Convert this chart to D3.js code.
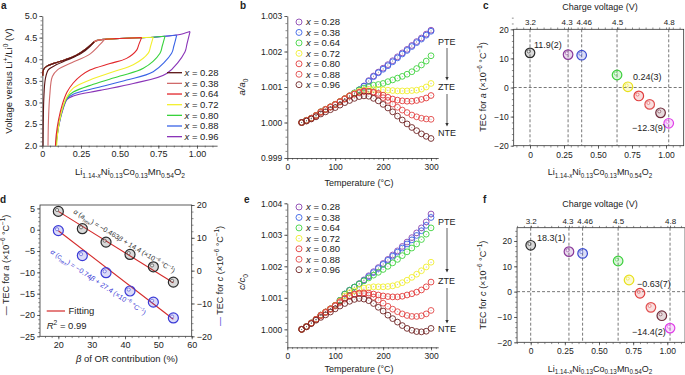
<!DOCTYPE html>
<html><head><meta charset="utf-8">
<script src="https://cdn.jsdelivr.net/npm/d3@7"></script>
<style>body{margin:0;background:#fff}svg{font-family:"Liberation Sans",Arial,sans-serif}</style>
</head><body><svg id="c" width="685" height="375"></svg>
<script>
// ---------------- DATA ----------------
const compLabels = ['0.28','0.38','0.64','0.72','0.80','0.88','0.96'];
const colorsA = ['#5a1414','#d06a6a','#e2262a','#f3ef2e','#38d23c','#3a64e6','#8a34b8'];
const colorsB = ['#8a44b0','#3a62e6','#3fd23f','#f0ee30','#e23a3a','#e24848','#6e2222'];

// panel a: shared charge curve + per-sample discharge
const chargeX = [0.003,0.008,0.03,0.08,0.15,0.22,0.28,0.335,0.35,0.403,0.50,0.642,0.717,0.793,0.869,0.91,0.955];
const chargeV = [3.62,3.76,3.84,3.91,3.99,4.09,4.23,4.40,4.43,4.46,4.48,4.50,4.51,4.53,4.56,4.59,4.64];
const chargeEnd = [0.335,0.403,0.642,0.717,0.793,0.869,0.955];
const d028X = [0.335,0.31,0.25,0.16,0.09,0.04,0.02,0.01,0.005];
const d028V = [4.40,4.30,4.13,3.98,3.87,3.76,3.55,3.10,2.00];
const d038X = [0.403,0.37,0.30,0.19,0.10,0.065,0.048,0.04,0.037];
const d038V = [4.46,4.33,4.10,3.92,3.76,3.60,3.15,2.60,2.00];
const d064X = [0.642,0.625,0.61,0.545,0.438,0.308,0.25,0.20,0.16,0.13,0.105,0.09,0.085];
const d064V = [4.50,4.35,4.21,4.02,3.90,3.75,3.62,3.45,3.24,2.96,2.60,2.25,2.00];
const d072X = [0.717,0.70,0.685,0.588,0.459,0.308,0.20,0.16,0.135,0.113,0.098,0.093];
const d072V = [4.51,4.30,4.14,3.87,3.71,3.52,3.33,3.14,2.92,2.60,2.25,2.00];
const d080X = [0.793,0.775,0.761,0.653,0.502,0.33,0.20,0.16,0.135,0.11,0.095,0.09];
const d080V = [4.53,4.30,4.14,3.79,3.61,3.42,3.24,3.11,2.90,2.55,2.20,2.00];
const d088X = [0.869,0.85,0.836,0.717,0.545,0.352,0.20,0.16,0.135,0.11,0.093,0.088];
const d088V = [4.56,4.30,4.14,3.71,3.52,3.34,3.19,3.09,2.88,2.52,2.15,2.00];
const d096X = [0.955,0.935,0.922,0.804,0.588,0.373,0.20,0.16,0.135,0.108,0.092,0.087];
const d096V = [4.64,4.35,4.17,3.67,3.44,3.28,3.15,3.07,2.86,2.50,2.15,2.00];

// panels b, e: temperature series
const temps = [30,40,50,60,70,80,90,100,110,120,130,140,150,160,170,180,190,200,210,220,230,240,250,260,270,280,290,300];
const a028 = [1.00000,1.00006,1.00012,1.00020,1.00030,1.00037,1.00044,1.00051,1.00059,1.00067,1.00075,1.00083,1.00092,1.00103,1.00118,1.00131,1.00142,1.00153,1.00163,1.00174,1.00185,1.00196,1.00206,1.00217,1.00228,1.00238,1.00249,1.00260];
const a038 = [1.00000,1.00006,1.00012,1.00020,1.00030,1.00037,1.00044,1.00051,1.00059,1.00067,1.00075,1.00083,1.00092,1.00102,1.00116,1.00129,1.00140,1.00150,1.00160,1.00171,1.00182,1.00193,1.00203,1.00214,1.00225,1.00235,1.00246,1.00257];
const a064 = [1.00000,1.00006,1.00012,1.00020,1.00030,1.00037,1.00044,1.00051,1.00059,1.00067,1.00075,1.00083,1.00092,1.00097,1.00101,1.00105,1.00107,1.00110,1.00115,1.00120,1.00125,1.00130,1.00136,1.00143,1.00152,1.00162,1.00173,1.00188];
const a072 = [1.00000,1.00006,1.00012,1.00020,1.00030,1.00037,1.00044,1.00051,1.00059,1.00067,1.00075,1.00082,1.00088,1.00091,1.00093,1.00093,1.00093,1.00092,1.00091,1.00090,1.00089,1.00089,1.00089,1.00090,1.00091,1.00094,1.00100,1.00110];
const a080 = [1.00000,1.00006,1.00012,1.00020,1.00030,1.00037,1.00044,1.00051,1.00059,1.00067,1.00075,1.00080,1.00084,1.00087,1.00088,1.00086,1.00082,1.00077,1.00071,1.00066,1.00063,1.00061,1.00060,1.00060,1.00062,1.00065,1.00069,1.00076];
const a088 = [1.00000,1.00005,1.00011,1.00019,1.00028,1.00036,1.00043,1.00050,1.00058,1.00066,1.00074,1.00080,1.00085,1.00089,1.00088,1.00084,1.00078,1.00070,1.00062,1.00052,1.00043,1.00035,1.00028,1.00021,1.00016,1.00012,1.00010,1.00009];
const a096 = [1.00000,1.00004,1.00010,1.00016,1.00024,1.00030,1.00036,1.00042,1.00049,1.00056,1.00062,1.00068,1.00073,1.00075,1.00074,1.00068,1.00061,1.00051,1.00041,1.00030,1.00018,1.00007,0.99996,0.99986,0.99977,0.99968,0.99961,0.99955];

const c028 = [1.00000,1.00009,1.00020,1.00032,1.00045,1.00055,1.00065,1.00076,1.00092,1.00112,1.00124,1.00134,1.00145,1.00157,1.00170,1.00183,1.00196,1.00209,1.00222,1.00236,1.00249,1.00263,1.00277,1.00291,1.00306,1.00322,1.00341,1.00366];
const c038 = [1.00000,1.00009,1.00020,1.00032,1.00045,1.00055,1.00065,1.00076,1.00092,1.00112,1.00124,1.00134,1.00144,1.00155,1.00167,1.00180,1.00193,1.00206,1.00219,1.00232,1.00245,1.00258,1.00271,1.00284,1.00298,1.00313,1.00330,1.00355];
const c064 = [1.00000,1.00009,1.00020,1.00032,1.00045,1.00055,1.00065,1.00076,1.00092,1.00112,1.00124,1.00134,1.00144,1.00154,1.00163,1.00172,1.00181,1.00190,1.00200,1.00211,1.00222,1.00234,1.00246,1.00258,1.00271,1.00285,1.00302,1.00322];
const c072 = [1.00000,1.00009,1.00020,1.00032,1.00045,1.00055,1.00065,1.00076,1.00090,1.00106,1.00116,1.00122,1.00127,1.00131,1.00133,1.00135,1.00135,1.00135,1.00136,1.00138,1.00142,1.00148,1.00156,1.00165,1.00175,1.00186,1.00198,1.00213];
const c080 = [1.00000,1.00009,1.00020,1.00032,1.00045,1.00055,1.00065,1.00076,1.00088,1.00099,1.00107,1.00112,1.00115,1.00116,1.00115,1.00112,1.00109,1.00106,1.00104,1.00103,1.00103,1.00105,1.00109,1.00113,1.00118,1.00125,1.00135,1.00150];
const c088 = [1.00000,1.00008,1.00019,1.00031,1.00043,1.00053,1.00063,1.00074,1.00085,1.00096,1.00104,1.00110,1.00113,1.00113,1.00109,1.00102,1.00093,1.00083,1.00073,1.00064,1.00056,1.00049,1.00044,1.00041,1.00041,1.00043,1.00049,1.00060];
const c096 = [1.00000,1.00008,1.00018,1.00029,1.00038,1.00046,1.00055,1.00065,1.00074,1.00082,1.00089,1.00095,1.00098,1.00096,1.00091,1.00082,1.00070,1.00058,1.00045,1.00034,1.00023,1.00012,1.00003,0.99997,0.99993,0.99992,0.99994,1.00003];

// panels c, f: TEC vs composition
const compX = [0, 0.28, 0.38, 0.64, 0.72, 0.80, 0.88, 0.96, 1.02];
const tecA = [11.9, 11.3, 11.1, 4.3, 0.24, -2.9, -5.8, -8.7, -12.3];
const tecC = [18.3, 15.8, 15.1, 12.1, 4.6, -0.63, -6.2, -9.5, -14.4];
const colorsC = ['#2a2a2a','#8a3a9a','#3a4ad0','#3ccf3c','#e8e01a','#e03c3c','#e05050','#6e2a3a','#e040e8'];
const voltX = [0, 0.28, 0.38, 0.64, 1.02];
const voltLabels = ['3.2','4.3','4.46','4.5','4.8'];

// panel d: TEC vs beta
const beta = [20, 27.2, 34.3, 41.5, 48.5, 54.5];
const tecAd = [4.3, 0.24, -2.9, -5.8, -8.7, -12.3];
const tecCd = [12.2, 4.6, -0.63, -6.2, -9.6, -14.4];
const fitA = [-0.485, 14.0];   // slope, intercept (left axis)
const fitC = [-0.782, 27.8];   // slope, intercept (right axis)
const fitRange = [20, 54.5];

// ---------------- HELPERS ----------------
const svg = d3.select('#c');
const FS = 9;
const INK = '#222';
const gens = {left:d3.axisLeft, right:d3.axisRight, bottom:d3.axisBottom, top:d3.axisTop};
function drawAxis(o){
  const vert = o.orient==='left'||o.orient==='right';
  const tr = vert ? `translate(${o.at},0)` : `translate(0,${o.at})`;
  const s = o.inward ? -1 : 1;
  if(o.minor){
    const gm = svg.append('g').attr('transform',tr)
      .call(gens[o.orient](o.scale).tickValues(o.minor).tickSize(s*(o.minorLen||1.8)).tickSizeOuter(0).tickFormat(''));
    gm.select('.domain').remove();
    gm.selectAll('line').attr('stroke','#444').attr('stroke-width',0.6);
  }
  const g = svg.append('g').attr('transform',tr)
    .call(gens[o.orient](o.scale).tickValues(o.ticks).tickSize(s*(o.len||3)).tickSizeOuter(0).tickPadding(o.pad??2).tickFormat(o.fmt||''));
  if(!o.domain) g.select('.domain').remove(); else g.select('.domain').attr('stroke','#333').attr('stroke-width',0.8);
  g.selectAll('line').attr('stroke','#333').attr('stroke-width',0.7);
  g.attr('font-size',o.fs||8.5).attr('font-family','"Liberation Sans",Arial,sans-serif');
  g.selectAll('text').attr('fill',INK);
  return g;
}
function rich(x,y,parts,o={}){
  const fs=o.fs||FS;
  const t=svg.append('text').attr('x',x).attr('y',y).attr('font-size',fs)
    .attr('fill',o.fill||INK).attr('text-anchor',o.anchor||'start');
  if(o.weight) t.attr('font-weight',o.weight);
  if(o.rotate!=null) t.attr('transform',`rotate(${o.rotate},${x},${y})`);
  let cur=0;
  parts.forEach(p=>{
    const txt=p[0], m=p[1]||'', col=p[2];
    const sub=m.includes('sub'), sup=m.includes('sup');
    const sh = sub? fs*0.32 : sup? -fs*0.4 : 0;
    const ts=t.append('tspan').text(txt);
    if(sh-cur!==0) ts.attr('dy',sh-cur);
    if(sub||sup) ts.attr('font-size',fs*0.7);
    if(m.includes('i')) ts.attr('font-style','italic');
    if(col) ts.attr('fill',col);
    cur=sh;
  });
  return t;
}
const formula = [['Li'],['1.14-','sub'],['x','isub'],['Ni'],['0.13','sub'],['Co'],['0.13','sub'],['Mn'],['0.54','sub'],['O'],['2','sub']];
const fmt2 = v => v===0 ? '0' : d3.format('.2f')(v);
const range = (a,b,s)=>d3.range(a,b+s/2,s).map(v=>+v.toFixed(6));
function ring(g,x,y,color,r,w){
  g.append('circle').attr('cx',x).attr('cy',y).attr('r',r).attr('fill','none').attr('stroke',color).attr('stroke-width',w||0.9);
}
function marker(x,y,color,r){
  svg.append('circle').attr('cx',x).attr('cy',y).attr('r',r).attr('fill',color).attr('fill-opacity',0.18)
    .attr('stroke',color).attr('stroke-width',1.2);
  svg.append('circle').attr('cx',x-1.3).attr('cy',y-1.4).attr('r',r*0.32).attr('fill','#fff').attr('fill-opacity',0.5)
    .attr('stroke',color).attr('stroke-width',0.7).attr('stroke-opacity',0.8);
}

// ---------------- PANEL a ----------------
const xA = d3.scaleLinear().domain([0,1.13]).range([42.3,217.1]);
const yA = d3.scaleLinear().domain([2,5]).range([145.7,16]);
drawAxis({orient:'left',scale:yA,at:xA(0),ticks:range(2,5,0.5),minor:range(2,5,0.1),fmt:d3.format('.1f'),domain:true,fs:9});
drawAxis({orient:'bottom',scale:xA,at:yA(2),ticks:[0,0.25,0.5,0.75,1],minor:range(0,1.1,0.05),fmt:fmt2,domain:true,fs:9});
const dischX=[d028X,d038X,d064X,d072X,d080X,d088X,d096X];
const dischV=[d028V,d038V,d064V,d072V,d080V,d088V,d096V];
const lineA = d3.line().x(d=>xA(d[0])).y(d=>yA(d[1])).curve(d3.curveCatmullRom.alpha(0.5));
for(let i=6;i>=0;i--){
  const dis = dischX[i].map((x,j)=>[x,dischV[i][j]]);
  const ch = chargeX.map((x,j)=>[x,chargeV[j]]).filter(p=>p[0]<chargeEnd[i]-0.004);
  ch.push(dis[0]);
  [ch,dis].forEach(pts=>svg.append('path').attr('d',lineA(pts)).attr('fill','none').attr('stroke',colorsA[i]).attr('stroke-width',1.1));
}
compLabels.forEach((l,i)=>{
  const y=72.7+i*10.66;
  svg.append('line').attr('x1',167).attr('x2',182).attr('y1',y).attr('y2',y).attr('stroke',colorsA[i]).attr('stroke-width',1.3);
  rich(184.5,y+3.3,[['x','i'],[' = '+l]],{fs:9.5});
});
rich(12,81,[['Voltage versus Li'],['+','sup'],['/Li'],['0','sup'],[' (V)']],{anchor:'middle',rotate:-90,fs:9.5});
rich(130,175,formula,{anchor:'middle',fs:9.5});
rich(1,9,[['a']],{fs:10,weight:'bold'});

// ---------------- PANELS b & e ----------------
const xB = d3.scaleLinear().domain([0,315]).range([287.3,438.2]);
const yB = d3.scaleLinear().domain([0.999,1.003]).range([158,16]);
const yE = d3.scaleLinear().domain([0.99943,1.004]).range([347.3,203.3]);
function tempPanel(ys, series, y0, yTicks, yMinor, yLab, labY, tickY, arrowsY, letter){
  drawAxis({orient:'left',scale:ys,at:xB(0),ticks:yTicks,minor:yMinor,fmt:d3.format('.3f'),domain:true,fs:8.5});
  drawAxis({orient:'bottom',scale:xB,at:ys.range()[0],ticks:[0,100,200,300],minor:range(0,310,10),fmt:d3.format('d'),domain:true,fs:8.5,pad:3});
  const g=svg.append('g');
  series.forEach((s,i)=>{
    s.forEach((v,j)=>{
      ring(g,xB(temps[j]),ys(v),colorsB[i],2.9,0.9);
      g.append('circle').attr('cx',xB(temps[j])).attr('cy',ys(v)).attr('r',0.45).attr('fill','#777');
    });
  });
  compLabels.forEach((l,i)=>{
    const y=y0+i*10.45;
    ring(svg,299,y,colorsB[i],3,0.9);
    svg.append('circle').attr('cx',299).attr('cy',y).attr('r',0.45).attr('fill','#777');
    rich(306,y+3.3,[['x','i'],[' = '+l]],{fs:9.5});
  });
  rich(244.5,labY,yLab,{anchor:'middle',rotate:-90,fs:9.5});
  rich(359,tickY,[['Temperature (°C)']],{anchor:'middle',fs:9});
  const [pte,zte,nte,a1,a2,a3,a4]=arrowsY;
  rich(438,pte,[['PTE']],{fs:9}); rich(438,zte,[['ZTE']],{fs:9}); rich(438,nte,[['NTE']],{fs:9});
  [[a1,a2],[a3,a4]].forEach(([t,b])=>{
    svg.append('line').attr('x1',447).attr('x2',447).attr('y1',t).attr('y2',b-2).attr('stroke','#333').attr('stroke-width',0.8);
    svg.append('path').attr('d',`M${445.3},${b-3}L${448.7},${b-3}L447,${b+0.5}Z`).attr('fill','#333');
  });
  rich(letter[0],letter[1],[[letter[2]]],{fs:10,weight:'bold'});
}
tempPanel(yB,[a028,a038,a064,a072,a080,a088,a096],22,range(0.999,1.003,0.001),range(0.999,1.003,0.0002),
  [['a/a','i'],['0','sub']],87,186,[45,90,136,48,80,94,126],[240,9,'b']);
tempPanel(yE,[c028,c038,c064,c072,c080,c088,c096],207,range(1.000,1.004,0.001),range(0.9996,1.004,0.0002),
  [['c/c','i'],['0','sub']],282,372,[225,284,332,228,272,288,323],[244,203,'e']);

// ---------------- PANELS c & f ----------------
function tecPanel(xs, ys, vals, xLabY, topTitleY, ylabParts, ylabY, notes, letter){
  const [x0,x1]=xs.range(), [yb,yt]=ys.range();
  svg.append('rect').attr('x',x0).attr('y',yt).attr('width',x1-x0).attr('height',yb-yt).attr('fill','none').attr('stroke','#333').attr('stroke-width',0.8);
  drawAxis({orient:'left',scale:ys,at:x0,ticks:range(-20,20,10),minor:range(-20,24,2),fmt:d3.format('d'),fs:8.5});
  drawAxis({orient:'bottom',scale:xs,at:yb,ticks:[0,0.25,0.5,0.75,1],minor:range(-0.1,1.1,0.05),fmt:fmt2,fs:8.5,pad:3});
  const gt = drawAxis({orient:'top',scale:xs,at:yt,ticks:voltX,minor:range(-0.1,1.1,0.05),fmt:(d,i)=>voltLabels[i],fs:8,len:2,pad:2});
  gt.selectAll('.tick text').attr('dx',(d,i)=> i===1 ? -1.5 : i===2 ? 2 : 0);
  voltX.forEach(v=>svg.append('line').attr('x1',xs(v)).attr('x2',xs(v)).attr('y1',yt).attr('y2',yb).attr('stroke','#555').attr('stroke-width',0.8).attr('stroke-dasharray','3,2'));
  svg.append('line').attr('x1',x0).attr('x2',x1).attr('y1',ys(0)).attr('y2',ys(0)).attr('stroke','#555').attr('stroke-width',0.8).attr('stroke-dasharray','3,2');
  vals.forEach((v,i)=>marker(xs(compX[i]),ys(v),colorsC[i],4.8));
  rich(600,topTitleY,[['Charge voltage (V)']],{anchor:'middle',fs:9});
  rich(600,xLabY,formula,{anchor:'middle',fs:9});
  rich(486,ylabY,ylabParts,{anchor:'middle',rotate:-90,fs:9});
  notes.forEach(n=>rich(n[0],n[1],[[n[2]]],{fs:9}));
  rich(letter[0],letter[1],[[letter[2]]],{fs:10,weight:'bold'});
}
const xC = d3.scaleLinear().domain([-0.12,1.13]).range([530-0.12*136,530+1.13*136]);
const yC = d3.scaleLinear().domain([-20,20]).range([145.7,29.3]);
tecPanel(xC,yC,tecA,175,9.5,[['TEC for '],['a','i'],[' (×10'],['−6','sup'],[' °C'],['−1','sup'],[')']],87,
  [[534,48,'11.9(2)'],[633,80,'0.24(3)'],[632,131,'−12.3(9)']],[483,9,'c']);
const xF = d3.scaleLinear().domain([-0.1,1.13]).range([530.7-0.1*136.6,530.7+1.13*136.6]);
const yF = d3.scaleLinear().domain([-20,25.25]).range([342.3,227.7]);
tecPanel(xF,yF,tecC,371.5,206.5,[['TEC for '],['c','i'],[' (×10'],['−6','sup'],[' °C'],['−1','sup'],[')']],285,
  [[537,241,'18.3(1)'],[637,287,'−0.63(7)'],[632,335,'−14.4(2)']],[483,203,'f']);

// ---------------- PANEL d ----------------
const xD = d3.scaleLinear().domain([14.5,60]).range([40,191.7]);
const yDL = d3.scaleLinear().domain([-25,5.8]).range([336.3,205]);
const yDR = d3.scaleLinear().domain([-20,20]).range([336.3,205]);
svg.append('rect').attr('x',40).attr('y',205).attr('width',151.7).attr('height',131.3).attr('fill','none').attr('stroke','#333').attr('stroke-width',0.8);
drawAxis({orient:'left',scale:yDL,at:40,ticks:range(-25,5,5),minor:range(-25,5,1),fmt:d3.format('d'),fs:9});
drawAxis({orient:'right',scale:yDR,at:191.7,ticks:range(-20,20,10),minor:range(-20,20,2),fmt:d3.format('d'),fs:9});
drawAxis({orient:'bottom',scale:xD,at:336.3,ticks:[20,30,40,50,60],minor:range(16,60,2),fmt:d3.format('d'),fs:9,pad:2});
[[fitA,yDL],[fitC,yDR]].forEach(([f,ys])=>{
  svg.append('line').attr('x1',xD(fitRange[0])).attr('x2',xD(fitRange[1]))
    .attr('y1',ys(f[0]*fitRange[0]+f[1])).attr('y2',ys(f[0]*fitRange[1]+f[1])).attr('stroke','#d42a2a').attr('stroke-width',1.1);
});
beta.forEach((b,i)=>{
  marker(xD(b),yDL(tecAd[i]),'#2a2a2a',5);
  marker(xD(b),yDR(tecCd[i]),'#3a3ad6',5);
});
rich(73,213,[['α','i'],[' ('],['a','i'],['hex','sub'],[') = −0.463'],['β','i'],[' + 14.4 (×10'],['−6','sup'],[' °C'],['−1','sup'],[')']],{fs:7,rotate:31,fill:'#333'});
rich(50,253,[['α','i'],[' ('],['c','i'],['hex','sub'],[') = −0.74'],['β','i'],[' + 27.4 (×10'],['−6','sup'],[' °C'],['−1','sup'],[')']],{fs:7,rotate:33.5,fill:'#3a3ad6'});
svg.append('line').attr('x1',46.7).attr('x2',65).attr('y1',311).attr('y2',311).attr('stroke','#d42a2a').attr('stroke-width',1.2);
rich(68.5,314.3,[['Fitting']],{fs:9.5});
rich(46.7,328.5,[['R','i'],['2','sup'],[' = 0.99']],{fs:9.5});
rich(9,265,[['— ','',INK],['TEC for '],['a','i'],[' (×10'],['−6','sup'],[' °C'],['−1','sup'],[')']],{anchor:'middle',rotate:-90,fs:9});
rich(223,276,[['— ','','#3a3ad6'],['TEC for '],['c','i'],[' (×10'],['−6','sup'],[' °C'],['−1','sup'],[')']],{anchor:'middle',rotate:-90,fs:9});
rich(127,362,[['β','i'],[' of OR contribution (%)']],{anchor:'middle',fs:9.5});
rich(0,203,[['d']],{fs:10,weight:'bold'});
</script></body></html>
